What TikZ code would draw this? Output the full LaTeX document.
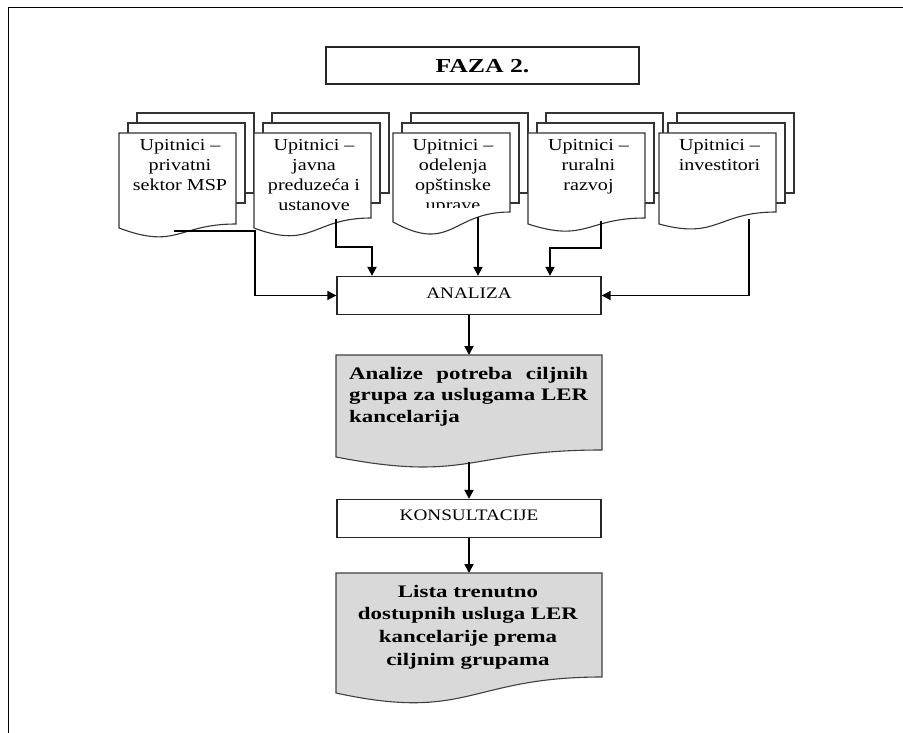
\documentclass[tikz,border=0pt]{standalone}
\usepackage{fontspec}
\setmainfont{Liberation Serif}
\newfontfamily\docrm[FakeStretch=1.2]{Liberation Serif}
\newfontfamily\docbf[FakeStretch=1.3]{Liberation Serif}
\usetikzlibrary{arrows.meta}

\definecolor{shade}{RGB}{217,217,217}

% A stack of three sheets: two plain sheets behind a front sheet with a wavy bottom.
% #1 left x of the front sheet, #2 y of the right end of the wave,
% #3 y of the left end of the wave, #4 y of the lower control point.
\newcommand\sheetstack[4]{%
  \draw[sheet] ({#1+18},113) rectangle ({#1+135},193);
  \draw[sheet] ({#1+9},123) rectangle ({#1+126},203);
  \draw[sheet] (#1,133) -- ({#1+117},133) -- ({#1+117},#2)
    .. controls ({#1+58.5},#2) and ({#1+58.5},#4) .. (#1,#3) -- cycle;
}

\tikzset{
  sheet/.style={draw=black!80, line width=1.1pt, fill=white},
  graysheet/.style={draw=black!75, line width=1.1pt, fill=shade},
  stepbox/.style={draw=black!85, line width=1.3pt, inner sep=0pt,
    minimum width=264pt, minimum height=38pt,
    font=\docrm\fontsize{16}{19}\selectfont},
  doctext/.style={anchor=base, inner sep=0pt,
    font=\docrm\fontsize{16.75}{19.8}\selectfont},
  graytext/.style={inner sep=0pt},
  link/.style={line width=1.8pt, draw=black},
  arr/.style={link, -{Triangle[length=9pt,width=9pt]}},
}

\begin{document}
\begin{tikzpicture}[x=1pt, y=-1pt]
\useasboundingbox (0,0) rectangle (903,733);

% outer frame (top and left edges)
\draw[line width=1.8pt] (8.5,733) -- (8.5,7.5) -- (903,7.5);

% phase title
\node[draw=black!85, line width=1.3pt, inner sep=0pt,
      minimum width=313pt, minimum height=37pt,
      text height=15pt, text depth=0pt,
      font=\docbf\bfseries\fontsize{19.8}{23}\selectfont]
      (faza) at (482.5,65.5) {FAZA 2.};

% sheet stacks
\sheetstack{119}{224}{228}{250}
\sheetstack{254}{218}{228}{250}
\sheetstack{393}{212}{222}{254}
\sheetstack{528}{218}{224}{243}
\sheetstack{659}{212}{224}{240}

\node[doctext] (q1) at (180,151)
  {\begin{tabular}[t]{@{}c@{}}Upitnici –\\privatni\\sektor MSP\end{tabular}};
\node[doctext] (q2) at (314,151)
  {\begin{tabular}[t]{@{}c@{}}Upitnici –\\javna\\preduzeća i\\ustanove\end{tabular}};
\begin{scope}
  \clip (393,133) rectangle (510,208);
  \node[doctext] (q3) at (453,151)
    {\begin{tabular}[t]{@{}c@{}}Upitnici –\\odelenja\\opštinske\\uprave\end{tabular}};
\end{scope}
\node[doctext] (q4) at (588.5,151)
  {\begin{tabular}[t]{@{}c@{}}Upitnici –\\ruralni\\razvoj\end{tabular}};
\node[doctext] (q5) at (719.5,151)
  {\begin{tabular}[t]{@{}c@{}}Upitnici –\\investitori\end{tabular}};

% exit points on the wavy bottoms
\coordinate (e1) at (174,231);
\coordinate (e2) at (336,219);
\coordinate (e3) at (478,217);
\coordinate (e4) at (601,221);
\coordinate (e5) at (749,219);

% analysis step
\node[stepbox, text height=10.5pt, text depth=5.5pt] (analiza) at (469,295.5) {ANALIZA};

\coordinate (j1) at (255,231);
\coordinate (j2) at (372,247);
\coordinate (j4) at (550,248);
\draw[arr] (e1) -- (j1) |- (analiza.west);
\draw[arr] (e2) |- (j2) -- (j2 |- analiza.north);
\draw[arr] (e3) -- (e3 |- analiza.north);
\draw[arr] (e4) |- (j4) -- (j4 |- analiza.north);
\draw[arr] (e5) |- (analiza.east);

% needs analysis document
\draw[graysheet] (336,355) -- (602,355) -- (602,450)
  .. controls (469,450) and (469,483) .. (336,457) -- cycle;
\node[graytext, anchor=base west,
      font=\docbf\bfseries\fontsize{17.6}{21.5}\selectfont] (needs) at (349,379)
  {\begin{tabular}[t]{@{}l@{}}\makebox[239pt][s]{Analize potreba ciljnih}\\
   \makebox[239pt][s]{grupa za uslugama LER}\\kancelarija\end{tabular}};
\coordinate (needstop) at (469,355);
\coordinate (needsbot) at (469,462);
\draw[arr] (analiza.south) -- (needstop);

% consultation step
\node[stepbox, text height=10.5pt, text depth=7.5pt] (konsult) at (469,518.5) {KONSULTACIJE};
\draw[arr] (needsbot) -- (konsult.north);

% list of services document
\draw[graysheet] (336,573) -- (602,573) -- (602,677)
  .. controls (469,677) and (469,722) .. (336,693) -- cycle;
\node[graytext, anchor=base,
      font=\docbf\bfseries\fontsize{17.6}{22.7}\selectfont] (lista) at (468,597)
  {\begin{tabular}[t]{@{}c@{}}Lista trenutno\\dostupnih usluga LER\\
   kancelarije prema\\ciljnim grupama\end{tabular}};
\coordinate (listatop) at (469,573);
\draw[arr] (konsult.south) -- (listatop);
\end{tikzpicture}
\end{document}
